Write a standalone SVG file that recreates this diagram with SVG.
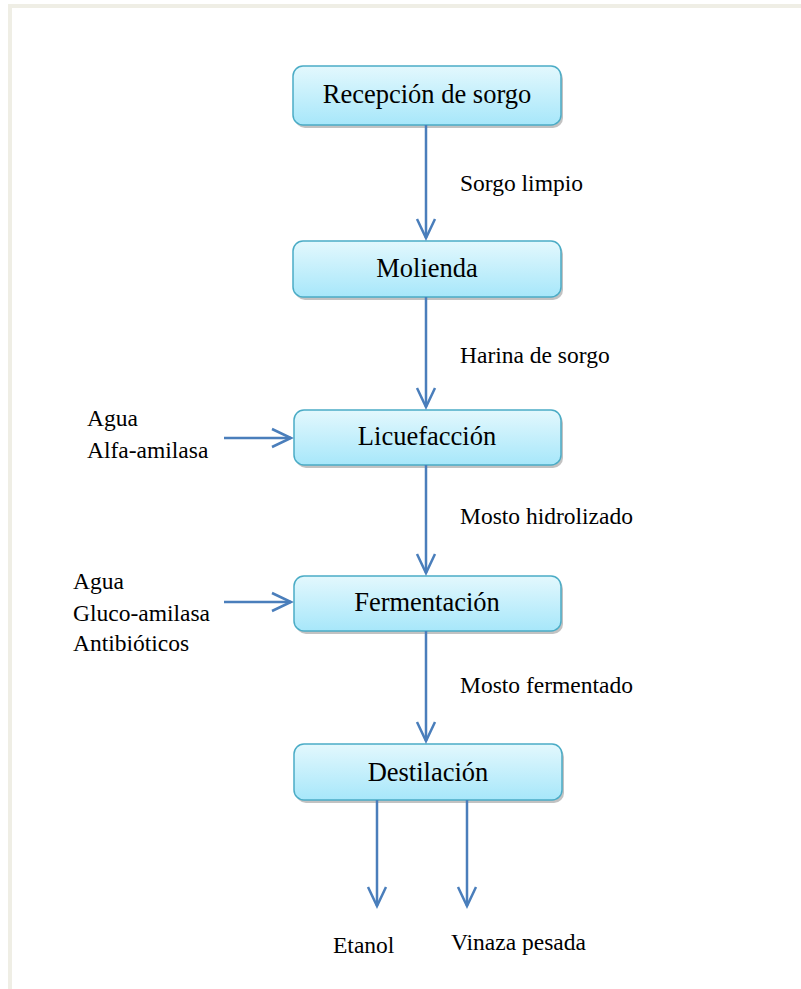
<svg xmlns="http://www.w3.org/2000/svg" width="801" height="989" viewBox="0 0 801 989">
<style>
.box{fill:url(#g);stroke:#4bacc6;stroke-width:1.5}
.sh{fill:#9a9a9a;opacity:0.6}
.bt{font-family:'Liberation Serif','Times New Roman',serif;font-size:26.5px;text-anchor:middle;fill:#000}
.lb{font-family:'Liberation Serif','Times New Roman',serif;font-size:23.5px;fill:#000}
.ar{stroke:#4a7ebb;stroke-width:2.5;fill:none}
</style>
<defs>
<linearGradient id="g" x1="0" y1="0" x2="0" y2="1">
<stop offset="0" stop-color="#e3f8fd"/>
<stop offset="1" stop-color="#a7e7fa"/>
</linearGradient>
<marker id="m" markerUnits="userSpaceOnUse" markerWidth="24" markerHeight="24" viewBox="-21 -11 24 22" refX="0" refY="0" orient="auto">
<path d="M-19,-9 L0,0 L-19,9" stroke="#4a7ebb" stroke-width="2.5" fill="none"/>
</marker>
</defs>
<rect width="801" height="989" fill="#fff"/>
<rect x="8" y="4" width="4" height="985" fill="#efeee5"/>
<rect x="8" y="4" width="793" height="4" fill="#efeee5"/>
<g id="recepcion">
<rect class="sh" x="295" y="69" width="268" height="59" rx="10"/>
<rect class="box" x="293" y="66" width="268" height="59" rx="10"/>
<text class="bt" x="427" y="103">Recepción de sorgo</text>
</g>
<g id="molienda">
<rect class="sh" x="295" y="244" width="268" height="56" rx="10"/>
<rect class="box" x="293" y="241" width="268" height="56" rx="10"/>
<text class="bt" x="427" y="277">Molienda</text>
</g>
<g id="licuefaccion">
<rect class="sh" x="296" y="413" width="267" height="55" rx="10"/>
<rect class="box" x="294" y="410" width="267" height="55" rx="10"/>
<text class="bt" x="427" y="445">Licuefacción</text>
</g>
<g id="fermentacion">
<rect class="sh" x="296" y="579" width="267" height="55" rx="10"/>
<rect class="box" x="294" y="576" width="267" height="55" rx="10"/>
<text class="bt" x="427" y="611">Fermentación</text>
</g>
<g id="destilacion">
<rect class="sh" x="296" y="747" width="268" height="56" rx="10"/>
<rect class="box" x="294" y="744" width="268" height="56" rx="10"/>
<text class="bt" x="428" y="781">Destilación</text>
</g>
<g id="connectors">
<line class="ar" x1="426" y1="125" x2="426" y2="238" marker-end="url(#m)"/>
<line class="ar" x1="426" y1="297" x2="426" y2="407" marker-end="url(#m)"/>
<line class="ar" x1="426" y1="465" x2="426" y2="573" marker-end="url(#m)"/>
<line class="ar" x1="426" y1="631" x2="426" y2="741" marker-end="url(#m)"/>
<line class="ar" x1="224" y1="438" x2="291" y2="438" marker-end="url(#m)"/>
<line class="ar" x1="224" y1="602" x2="291" y2="602" marker-end="url(#m)"/>
<line class="ar" x1="377" y1="800" x2="377" y2="906" marker-end="url(#m)"/>
<line class="ar" x1="467" y1="800" x2="467" y2="906" marker-end="url(#m)"/>
</g>
<g id="labels">
<text class="lb" x="460" y="191">Sorgo limpio</text>
<text class="lb" x="460" y="363">Harina de sorgo</text>
<text class="lb" x="460" y="524">Mosto hidrolizado</text>
<text class="lb" x="460" y="693">Mosto fermentado</text>
<text class="lb" x="87" y="426">Agua</text>
<text class="lb" x="87" y="458">Alfa-amilasa</text>
<text class="lb" x="73" y="589">Agua</text>
<text class="lb" x="73" y="621">Gluco-amilasa</text>
<text class="lb" x="73" y="651">Antibióticos</text>
<text class="lb" x="333" y="953">Etanol</text>
<text class="lb" x="451" y="950">Vinaza pesada</text>
</g>
</svg>
